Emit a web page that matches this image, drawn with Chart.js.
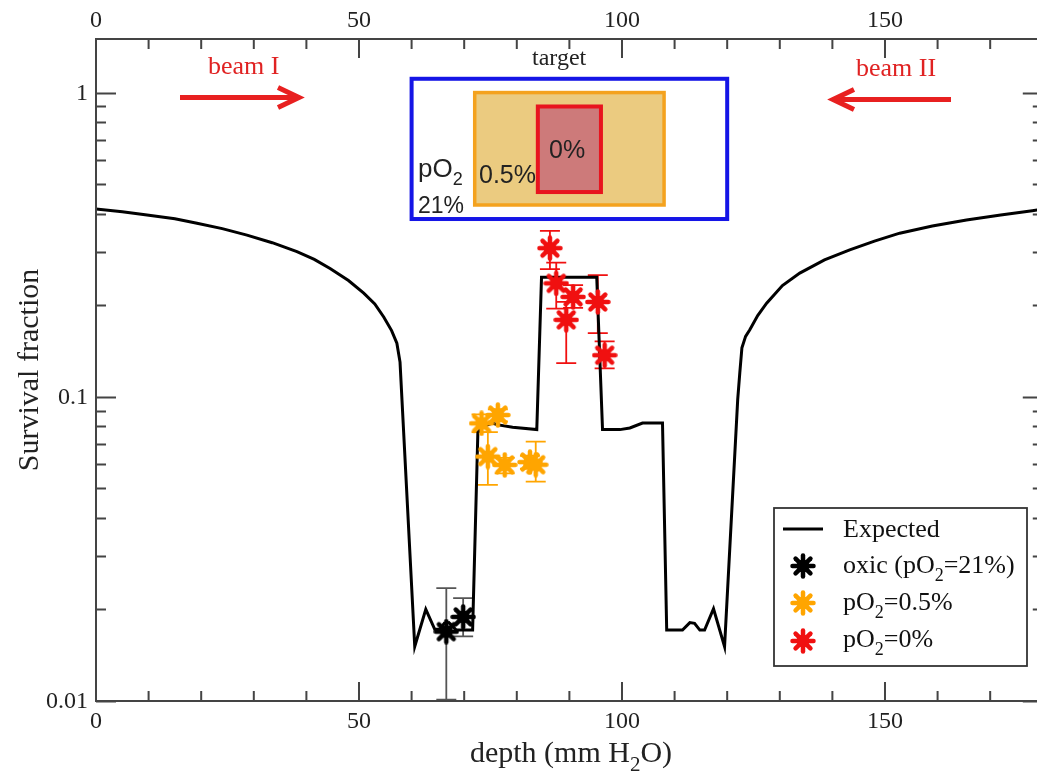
<!DOCTYPE html>
<html>
<head>
<meta charset="utf-8">
<script src="https://cdn.jsdelivr.net/npm/chart.js@4.4.1/dist/chart.umd.min.js"></script>
<style>
  html, body { margin: 0; padding: 0; background: #fff; }
  #wrap { width: 1037px; height: 774px; }
</style>
</head>
<body>
<div id="wrap"><canvas id="grafica" width="1037" height="774"></canvas></div>
<script>
// expected survival curve (depth in mm H2O)
const curveDepth = [0, 5, 9.7, 15, 19.2, 24, 28.7, 33.5, 38.2, 41.5, 44.5, 48, 50.9, 53, 54.7, 56.2, 57.2, 57.8,
  60.6, 62.7, 64.4, 65.3, 66.2, 67.1, 68.5, 71.6, 72.6, 73.6, 75.4, 76.2, 79.2, 83.8, 84.7, 95.2, 96.3, 99.6,
  101.5, 103.9, 107.7, 108.5, 111.5, 112.9, 113.8, 114.8, 115.7, 117.4, 119.5, 122.0, 122.4, 122.8, 123.5,
  124.3, 125.8, 127.5, 130.5, 133.8, 138.5, 143.3, 148, 152.8, 159, 165.5, 172, 178, 180];
const curveSurv = [0.414, 0.406, 0.396, 0.385, 0.372, 0.357, 0.340, 0.321, 0.300, 0.283, 0.264, 0.241, 0.219, 0.202, 0.183, 0.165, 0.150, 0.130,
  0.0151, 0.0200, 0.0172, 0.0172, 0.0180, 0.0181, 0.0171, 0.0171, 0.0765, 0.080, 0.082, 0.081, 0.0794, 0.078, 0.247, 0.247, 0.078, 0.078,
  0.079, 0.082, 0.082, 0.0171, 0.0171, 0.0181, 0.0180, 0.0171, 0.0171, 0.0201, 0.0151, 0.098, 0.120, 0.145, 0.158,
  0.166, 0.185, 0.203, 0.232, 0.255, 0.282, 0.304, 0.325, 0.345, 0.364, 0.381, 0.396, 0.409, 0.413];

// measured points with error bars
const oxicDepth = [66.6, 69.8];
const oxicSurv = [0.0169, 0.0189];
const oxicLow = [0.0101, 0.0163];
const oxicHigh = [0.0235, 0.0218];

const hypoDepth = [73.3, 76.4, 74.5, 77.7, 82.5, 83.6];
const hypoSurv = [0.0818, 0.0871, 0.0636, 0.0597, 0.0610, 0.0598];
const hypoLow = [0.0765, 0.083, 0.0513, 0.056, 0.058, 0.0526];
const hypoHigh = [0.0875, 0.091, 0.0765, 0.063, 0.064, 0.0712];

const anoxDepth = [86.3, 87.5, 90.7, 89.4, 95.4, 96.7];
const anoxSurv = [0.308, 0.236, 0.213, 0.179, 0.205, 0.137];
const anoxLow = [0.263, 0.195, 0.196, 0.129, 0.162, 0.124];
const anoxHigh = [0.351, 0.276, 0.233, 0.205, 0.251, 0.152];

// axes (the right edge of the figure is cut just before 180)
const xMin = 0, xMax = 178.9;
const xMajor = [0, 50, 100, 150];
const xMinorStep = 10;
const yMin = 0.01, yMax = 1.5;
const yMajor = [0.01, 0.1, 1];
const yMajorLabels = ['0.01', '0.1', '1'];

// target regions: [x0, x1, y0, y1]
const regionOxic = [60, 120, 0.384, 1.11];
const regionHalf = [72, 108, 0.427, 1.0];
const regionZero = [84, 96, 0.471, 0.90];

const legendLabels = [
  [['Expected', false]],
  [['oxic (pO', false], ['2', true], ['=21%)', false]],
  [['pO', false], ['2', true], ['=0.5%', false]],
  [['pO', false], ['2', true], ['=0%', false]]
];

const pts = (xs, ys) => xs.map((x, i) => ({x: x, y: ys[i]}));
const SERIF = '"Liberation Serif", "DejaVu Serif", serif';
const SANS = '"Liberation Sans", Arial, sans-serif';

// asterisk marker as a small canvas
function starMarker(color) {
  const c = document.createElement('canvas');
  c.width = 26; c.height = 26;
  const g = c.getContext('2d');
  g.translate(13, 13);
  g.strokeStyle = color;
  g.fillStyle = color;
  g.lineWidth = 4.5;
  g.lineCap = 'round';
  for (let k = 0; k < 4; k++) {
    const ang = k * Math.PI / 4;
    g.beginPath();
    g.moveTo(-10.5 * Math.cos(ang), -10.5 * Math.sin(ang));
    g.lineTo(10.5 * Math.cos(ang), 10.5 * Math.sin(ang));
    g.stroke();
  }
  g.beginPath();
  g.arc(0, 0, 6.5, 0, Math.PI * 2);
  g.fill();
  return c;
}

// text with subscripts
function textWidth(ctx, parts, size, font) {
  let w = 0;
  for (const [t, sub] of parts) {
    ctx.font = (sub ? Math.round(size * 0.7) : size) + 'px ' + font;
    w += ctx.measureText(t).width;
  }
  return w;
}
function drawParts(ctx, parts, x, y, size, font) {
  let cx = x;
  for (const [t, sub] of parts) {
    ctx.font = (sub ? Math.round(size * 0.7) : size) + 'px ' + font;
    ctx.fillText(t, cx, sub ? y + size * 0.3 : y);
    cx += ctx.measureText(t).width;
  }
}

const errorBars = {
  id: 'errorBars',
  beforeDatasetsDraw(chart) {
    const {ctx, scales: {x, y}} = chart;
    ctx.save();
    chart.data.datasets.forEach((ds) => {
      if (!ds.errLow) return;
      ctx.strokeStyle = ds.errColor;
      ctx.lineWidth = 1.8;
      ds.data.forEach((p, i) => {
        const px = x.getPixelForValue(p.x);
        const lo = y.getPixelForValue(ds.errLow[i]);
        const hi = y.getPixelForValue(ds.errHigh[i]);
        ctx.beginPath();
        ctx.moveTo(px, lo); ctx.lineTo(px, hi);
        ctx.moveTo(px - 10, lo); ctx.lineTo(px + 10, lo);
        ctx.moveTo(px - 10, hi); ctx.lineTo(px + 10, hi);
        ctx.stroke();
      });
    });
    ctx.restore();
  }
};

const decorations = {
  id: 'decorations',
  beforeDatasetsDraw(chart) {
    const {ctx, scales: {x, y}} = chart;
    const box = (r, fill, stroke, lw) => {
      const x0 = x.getPixelForValue(r[0]), x1 = x.getPixelForValue(r[1]);
      const y0 = y.getPixelForValue(r[2]), y1 = y.getPixelForValue(r[3]);
      if (fill) { ctx.fillStyle = fill; ctx.fillRect(x0, y1, x1 - x0, y0 - y1); }
      ctx.strokeStyle = stroke; ctx.lineWidth = lw;
      ctx.strokeRect(x0, y1, x1 - x0, y0 - y1);
    };
    ctx.save();
    box(regionOxic, null, '#1515e6', 4);
    box(regionHalf, '#ebcb80', '#f4a21e', 3.5);
    box(regionZero, '#cd7a7a', '#e8141e', 4);

    ctx.fillStyle = '#222';
    ctx.textBaseline = 'alphabetic';
    ctx.textAlign = 'left';
    ctx.font = '25px ' + SANS;
    ctx.fillText('0%', 549, 158);
    ctx.fillText('0.5%', 479, 183);
    drawParts(ctx, [['pO', false], ['2', true]], 418, 177, 26, SANS);
    ctx.font = '23px ' + SANS;
    ctx.fillText('21%', 418, 213);

    ctx.font = '24px ' + SERIF;
    ctx.fillText('target', 532, 65);

    // beams
    ctx.fillStyle = '#e02222';
    ctx.font = '26px ' + SERIF;
    ctx.fillText('beam I', 208, 74);
    ctx.fillText('beam II', 856, 76);
    const arrow = (xa, xb, yy) => {
      const d = Math.sign(xb - xa);
      ctx.strokeStyle = '#e82020';
      ctx.lineWidth = 5;
      ctx.lineCap = 'butt';
      ctx.beginPath();
      ctx.moveTo(xa, yy); ctx.lineTo(xb - d * 2, yy);
      ctx.stroke();
      ctx.lineJoin = 'miter';
      ctx.beginPath();
      ctx.moveTo(xb - d * 21, yy - 10);
      ctx.lineTo(xb, yy);
      ctx.lineTo(xb - d * 21, yy + 10);
      ctx.stroke();
    };
    arrow(180, 299, 97.5);
    arrow(951, 833, 99.5);
    ctx.restore();
  }
};

const frame = {
  id: 'frame',
  afterDraw(chart) {
    const {ctx, chartArea: a, scales: {x, y}} = chart;
    ctx.save();
    ctx.strokeStyle = '#444';
    ctx.lineWidth = 2;
    ctx.beginPath();
    ctx.moveTo(a.right + 5, a.top); ctx.lineTo(a.left, a.top);
    ctx.lineTo(a.left, a.bottom); ctx.lineTo(a.right + 5, a.bottom);
    for (let v = 0; v <= xMax; v += xMinorStep) {
      const px = x.getPixelForValue(v);
      const len = xMajor.includes(v) ? 19 : 10;
      ctx.moveTo(px, a.bottom); ctx.lineTo(px, a.bottom - len);
      ctx.moveTo(px, a.top); ctx.lineTo(px, a.top + len);
    }
    // right axis sits just outside the canvas; its ticks still reach in
    const rightAxis = x.getPixelForValue(180);
    for (let d = 0.01; d < 2; d *= 10) {
      for (let m = 1; m <= 9; m++) {
        const v = d * m;
        if (v > yMax) break;
        const py = Math.round(y.getPixelForValue(v)) + 0.5;
        const len = m === 1 ? 20 : 10;
        ctx.moveTo(a.left, py); ctx.lineTo(a.left + len, py);
        ctx.moveTo(rightAxis, py); ctx.lineTo(rightAxis - len, py);
      }
    }
    ctx.stroke();

    ctx.fillStyle = '#222';
    ctx.font = '24px ' + SERIF;
    ctx.textAlign = 'center';
    ctx.textBaseline = 'middle';
    xMajor.forEach((v) => {
      const px = x.getPixelForValue(v);
      ctx.fillText(String(v), px, a.bottom + 21);
      ctx.fillText(String(v), px, a.top - 18);
    });
    ctx.textAlign = 'right';
    yMajor.forEach((v, i) => {
      ctx.fillText(yMajorLabels[i], a.left - 8, y.getPixelForValue(v) + 1);
    });

    // axis titles
    ctx.font = '30px ' + SERIF;
    ctx.save();
    ctx.translate(30, (a.top + a.bottom) / 2);
    ctx.rotate(-Math.PI / 2);
    ctx.textAlign = 'center';
    ctx.fillText('Survival fraction', 0, 0);
    ctx.restore();
    const xt = [['depth (mm H', false], ['2', true], ['O)', false]];
    const w = textWidth(ctx, xt, 30, SERIF);
    ctx.textAlign = 'left';
    ctx.textBaseline = 'alphabetic';
    drawParts(ctx, xt, 571 - w / 2, 762, 30, SERIF);

    // legend
    ctx.fillStyle = '#fff';
    ctx.fillRect(774, 508, 253, 158);
    ctx.strokeStyle = '#333';
    ctx.lineWidth = 1.8;
    ctx.strokeRect(774, 508, 253, 158);
    const rows = [537, 573, 610, 647];
    const markY = [529, 566, 603, 641];
    chart.data.datasets.forEach((ds, i) => {
      ctx.fillStyle = '#111';
      drawParts(ctx, legendLabels[i], 843, rows[i], 26, SERIF);
      if (ds.showLine) {
        ctx.strokeStyle = ds.borderColor;
        ctx.lineWidth = 3;
        ctx.beginPath();
        ctx.moveTo(783, markY[i]); ctx.lineTo(823, markY[i]);
        ctx.stroke();
      } else {
        ctx.drawImage(ds.pointStyle, 803 - 13, markY[i] - 13);
      }
    });
    ctx.restore();
  }
};

const marker = (color) => ({
  showLine: false,
  pointStyle: starMarker(color),
  pointRadius: 11,
  borderColor: color,
  backgroundColor: color
});

new Chart(document.getElementById('grafica'), {
  type: 'scatter',
  data: {
    datasets: [
      {
        label: 'Expected',
        data: pts(curveDepth, curveSurv),
        showLine: true,
        borderColor: '#000',
        borderWidth: 3,
        pointRadius: 0,
        tension: 0,
        order: 10
      },
      Object.assign({label: 'oxic', data: pts(oxicDepth, oxicSurv), errLow: oxicLow, errHigh: oxicHigh, errColor: '#555'}, marker('#000')),
      Object.assign({label: 'pO2=0.5%', data: pts(hypoDepth, hypoSurv), errLow: hypoLow, errHigh: hypoHigh, errColor: '#ffa500'}, marker('#ffa500')),
      Object.assign({label: 'pO2=0%', data: pts(anoxDepth, anoxSurv), errLow: anoxLow, errHigh: anoxHigh, errColor: '#f01010'}, marker('#f01010'))
    ]
  },
  options: {
    responsive: false,
    animation: false,
    devicePixelRatio: 1,
    layout: {autoPadding: false, padding: {left: 96, right: 0, top: 39, bottom: 73}},
    scales: {
      x: {type: 'linear', min: xMin, max: xMax, display: false},
      y: {type: 'logarithmic', min: yMin, max: yMax, display: false}
    },
    plugins: {legend: {display: false}, tooltip: {enabled: false}}
  },
  plugins: [decorations, errorBars, frame]
});
</script>
</body>
</html>
